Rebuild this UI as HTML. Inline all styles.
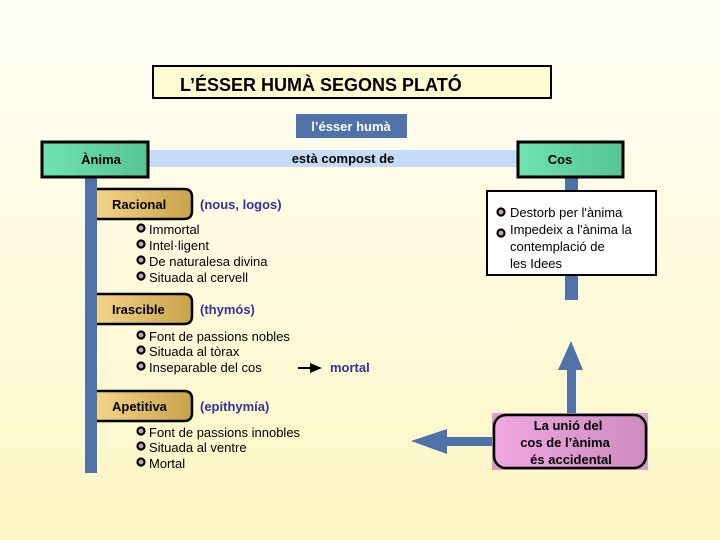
<!DOCTYPE html>
<html><head><meta charset="utf-8"><style>
body{margin:0;width:720px;height:540px;overflow:hidden;}
svg{display:block}
text{font-family:"Liberation Sans",sans-serif;}
</style></head><body>
<svg width="720" height="540" viewBox="0 0 720 540" xmlns="http://www.w3.org/2000/svg">
<defs>
<linearGradient id="bg" x1="0" y1="0" x2="0" y2="1"><stop offset="0" stop-color="#fffff8"/><stop offset="1" stop-color="#fdf6c4"/></linearGradient>
<linearGradient id="gr" x1="0" y1="0" x2="1" y2="0"><stop offset="0" stop-color="#6ee3b0"/><stop offset="1" stop-color="#55c493"/></linearGradient>
<linearGradient id="gd" x1="0" y1="0" x2="1" y2="0"><stop offset="0" stop-color="#f3d487"/><stop offset="1" stop-color="#c9a24a"/></linearGradient>
<linearGradient id="pk" x1="0" y1="0" x2="1" y2="0"><stop offset="0" stop-color="#f0a8e0"/><stop offset="1" stop-color="#cc8cbf"/></linearGradient>
</defs>
<rect width="720" height="540" fill="url(#bg)"/>
<!-- title -->
<rect x="153" y="66" width="398" height="32" fill="#fffbd0" stroke="#000" stroke-width="2"/>
<text x="180" y="91" font-size="18" font-weight="bold" fill="#000">L’ÉSSER HUMÀ SEGONS  PLATÓ</text>
<!-- l'ésser humà -->
<rect x="296" y="114" width="111" height="24" fill="#4f72a8"/>
<text x="351" y="131" font-size="13" font-weight="bold" fill="#fff" text-anchor="middle">l’ésser humà</text>
<!-- light bar -->
<rect x="148" y="150" width="372" height="17" fill="#c4dcf6"/>
<text x="343" y="163" font-size="13" font-weight="bold" fill="#000" text-anchor="middle">està compost de</text>
<!-- vertical bars -->
<rect x="85" y="176" width="12" height="297" fill="#4f72a8"/>
<rect x="565" y="176" width="13" height="124" fill="#4f72a8"/>
<!-- Anima / Cos -->
<rect x="42" y="142" width="106" height="35" fill="url(#gr)" stroke="#000" stroke-width="3"/>
<text x="101" y="164" font-size="13" font-weight="bold" text-anchor="middle">Ànima</text>
<rect x="518" y="142" width="105" height="35" fill="url(#gr)" stroke="#000" stroke-width="3"/>
<text x="560" y="164" font-size="13" font-weight="bold" text-anchor="middle">Cos</text>
<!-- tabs -->
<g stroke="#000" stroke-width="2.5" fill="url(#gd)">
<path d="M97 189 H184 Q192 189 192 197 V211 Q192 219 184 219 H97"/>
<path d="M97 294 H184 Q192 294 192 302 V316 Q192 324 184 324 H97"/>
<path d="M97 391 H184 Q192 391 192 399 V413 Q192 421 184 421 H97"/>
</g>
<text x="112" y="209" font-size="13" font-weight="bold">Racional</text>
<text x="112" y="314" font-size="13" font-weight="bold">Irascible</text>
<text x="112" y="411" font-size="13" font-weight="bold">Apetitiva</text>
<g font-size="13" font-weight="bold" fill="#333399">
<text x="200" y="209">(nous, logos)</text>
<text x="200" y="314">(thymós)</text>
<text x="200" y="411">(epithymía)</text>
<text x="330" y="372">mortal</text>
</g>
<!-- bullets -->
<g fill="#c8a0c0" stroke="#000" stroke-width="2.2">
<circle cx="141" cy="228" r="3.5"/><circle cx="141" cy="244" r="3.5"/><circle cx="141" cy="260" r="3.5"/><circle cx="141" cy="276" r="3.5"/>
<circle cx="141" cy="335" r="3.5"/><circle cx="141" cy="350" r="3.5"/><circle cx="141" cy="366" r="3.5"/>
<circle cx="141" cy="431" r="3.5"/><circle cx="141" cy="446" r="3.5"/><circle cx="141" cy="462" r="3.5"/>
</g>
<g font-size="13" fill="#000">
<text x="149" y="234">Immortal</text>
<text x="149" y="250">Intel·ligent</text>
<text x="149" y="266">De naturalesa divina</text>
<text x="149" y="282">Situada al cervell</text>
<text x="149" y="341">Font de passions nobles</text>
<text x="149" y="356">Situada al tòrax</text>
<text x="149" y="372">Inseparable del cos</text>
<text x="149" y="437">Font de passions innobles</text>
<text x="149" y="452">Situada al ventre</text>
<text x="149" y="468">Mortal</text>
</g>
<!-- small arrow -->
<line x1="298" y1="368" x2="312" y2="368" stroke="#000" stroke-width="2"/>
<polygon points="310,363 322,368 310,373" fill="#000"/>
<!-- Cos box -->
<rect x="487" y="191" width="169" height="84" fill="#fff" stroke="#000" stroke-width="2"/>
<g fill="#c8a0c0" stroke="#000" stroke-width="2.2"><circle cx="501" cy="212" r="3.5"/><circle cx="501" cy="233" r="3.5"/></g>
<g font-size="13"><text x="510" y="217">Destorb per l'ànima</text><text x="510" y="234">Impedeix a l'ànima la</text><text x="510" y="251">contemplació de</text><text x="510" y="268">les Idees</text></g>
<!-- big arrows -->
<rect x="567" y="368" width="9" height="47" fill="#4f72a8"/>
<polygon points="571,341 583,370 558,370" fill="#4f72a8"/>
<rect x="445" y="437" width="50" height="9" fill="#4f72a8"/>
<polygon points="411,441 447,429 447,454" fill="#4f72a8"/>
<!-- union box -->
<rect x="492" y="413" width="156" height="57" fill="#d8a0c8"/>
<rect x="494" y="415" width="152" height="53" rx="12" fill="url(#pk)" stroke="#000" stroke-width="2.5"/>
<g font-size="13" font-weight="bold" text-anchor="middle">
<text x="568" y="430">La unió del</text>
<text x="565" y="447">cos de l’ànima</text>
<text x="571" y="464">és accidental</text>
</g>
</svg>
</body></html>
